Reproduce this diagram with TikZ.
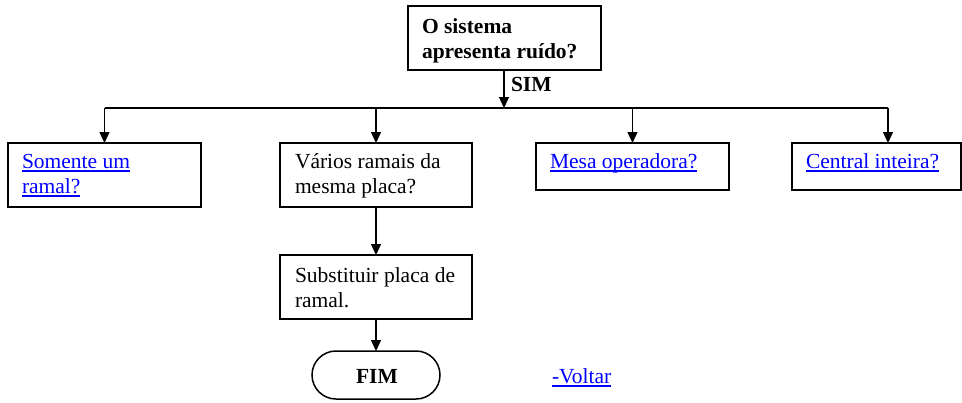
\documentclass[tikz,border=0pt]{standalone}
\usepackage{fontspec}
\setmainfont{Liberation Serif}
\usetikzlibrary{arrows.meta}
\definecolor{linkblue}{RGB}{0,0,255}
\newsavebox{\lnkbox}
\newcommand{\lnk}[1]{\textcolor{linkblue}{\sbox{\lnkbox}{#1}\rlap{\rule[-3.8pt]{\wd\lnkbox}{1.5pt}}\usebox{\lnkbox}}}
\begin{document}
\begin{tikzpicture}[x=1pt,y=-1pt,
  box/.style={draw, line width=1.8pt, inner sep=0pt, outer sep=0pt, anchor=north west},
  txt/.style={inner sep=0pt, outer sep=0pt, anchor=base west, font=\fontsize{21.5}{25}\selectfont},
  btxt/.style={txt, font=\fontsize{21.5}{25}\selectfont\bfseries},
  arr/.style={line width=1.3pt, -{Triangle[length=11pt,width=10pt]}},
  ln/.style={line width=1.3pt}]
\clip (0,0) rectangle (962,402);
\fill[white] (0,0) rectangle (962,402);

% boxes
\node[box, minimum width=193pt, minimum height=64pt] (top) at (408,6) {};
\node[box, minimum width=193pt, minimum height=64pt] (b1) at (8,143) {};
\node[box, minimum width=192pt, minimum height=64pt] (b2) at (280,143) {};
\node[box, minimum width=193pt, minimum height=47pt] (b3) at (536,143) {};
\node[box, minimum width=169pt, minimum height=47pt] (b4) at (792,143) {};
\node[box, minimum width=192pt, minimum height=64pt] (b5) at (280,255) {};
\node[draw, line width=1.5pt, rounded corners=24pt, minimum width=128pt, minimum height=48pt,
      inner sep=0pt, outer sep=0pt, anchor=north west] (fim) at (312,351) {};

% texts
\node[btxt] (t0a) at (422,33) {O sistema};
\node[btxt] (t0b) at (422,58) {apresenta ruído?};
\node[btxt] (sim) at (511,91) {SIM};
\node[txt] (t1a) at (22,168) {\lnk{Somente um}};
\node[txt] (t1b) at (22,193) {\lnk{ramal?}};
\node[txt] (t2a) at (295,168) {Vários ramais da};
\node[txt] (t2b) at (295,193) {mesma placa?};
\node[txt] (t3a) at (550,168) {\lnk{Mesa operadora?}};
\node[txt] (t4a) at (806,168) {\lnk{Central inteira?}};
\node[txt] (t5a) at (295,282) {Substituir placa de};
\node[txt] (t5b) at (295,307) {ramal.};
\node[btxt, anchor=base] (tf) at (377,383) {FIM};
\node[txt] (volt) at (552,383) {\lnk{-Voltar}};

% connectors
\coordinate (j) at (504,108);
\coordinate (L) at (104.5,108);
\coordinate (R) at (888,108);
\draw[arr] (top.south -| j) -- (j);
\draw[ln] (L) -- (R);
\draw[arr] (L) -- (b1.north);
\draw[arr] (b2.north |- L) -- (b2.north);
\draw[arr] (b3.north |- L) -- (b3.north);
\draw[arr] (R) -- (R |- b4.north);
\draw[arr] (b2.south) -- (b5.north);
\draw[arr] (b5.south) -- (b5.south |- fim.north);
\end{tikzpicture}
\end{document}
